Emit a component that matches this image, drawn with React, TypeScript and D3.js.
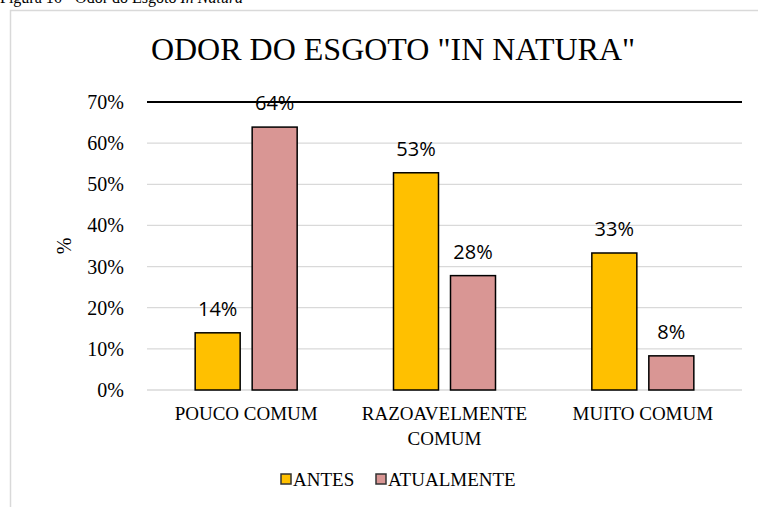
import React from "react";
import * as d3 from "d3";

const categories = ["POUCO COMUM", "RAZOAVELMENTE COMUM", "MUITO COMUM"];
const categoryLines = [["POUCO COMUM"], ["RAZOAVELMENTE", "COMUM"], ["MUITO COMUM"]];
const seriesNames = ["ANTES", "ATUALMENTE"];
const antes = [13.9, 52.8, 33.3];
const atualmente = [63.9, 27.8, 8.3];
const yTicks = [0, 10, 20, 30, 40, 50, 60, 70];
const colors = ["#FFC000", "#D99694"];

const W = 758;
const H = 507;
const M = { left: 147, right: 742, top: 102, bottom: 390 };

export default function App() {
  const x0 = d3.scaleBand().domain(categories).range([M.left, M.right]).paddingInner(0).paddingOuter(0);
  const y = d3.scaleLinear().domain([0, 70]).range([M.bottom, M.top]);
  const barW = 45;
  const gap = 12;
  const series = [antes, atualmente];
  const serif = "'Liberation Serif', 'Times New Roman', serif";
  const sans = "'Open Sans', 'Noto Sans', sans-serif";

  return (
    <svg width={W} height={H} style={{ position: "absolute", left: 0, top: 0 }} xmlns="http://www.w3.org/2000/svg">
      <rect x={0} y={0} width={W} height={H} fill="#fff" />
      <text x={0} y={3} fontFamily={serif} fontSize={16} fill="#000">
        Figura 16 - Odor do Esgoto <tspan fontStyle="italic">In Natura</tspan>
      </text>
      <rect x={10.5} y={10.5} width={W + 20} height={H + 20} fill="#fff" stroke="#d9d9d9" strokeWidth={1.5} />
      <text x={393} y={60} textAnchor="middle" fontFamily={serif} fontSize={32} fill="#000">
        ODOR DO ESGOTO "IN NATURA"
      </text>
      {yTicks.map((t) => (
        <g key={t}>
          <line
            x1={M.left}
            x2={M.right}
            y1={y(t)}
            y2={y(t)}
            stroke={t === 70 ? "#000" : "#d9d9d9"}
            strokeWidth={t === 70 ? 2 : 1.3}
          />
          <text x={124} y={y(t) + 7} textAnchor="end" fontFamily={serif} fontSize={20} fill="#000">
            {t}%
          </text>
        </g>
      ))}
      <text
        transform={`translate(71,${246}) rotate(-90)`}
        textAnchor="middle"
        fontFamily={serif}
        fontSize={20}
        fill="#000"
      >
        %
      </text>
      {categories.map((c, i) => {
        const cx = (x0(c) as number) + x0.bandwidth() / 2;
        return (
          <g key={c}>
            {series.map((s, j) => {
              const bx = j === 0 ? cx - gap / 2 - barW : cx + gap / 2;
              const by = y(s[i]);
              return (
                <g key={j}>
                  <rect
                    x={bx}
                    y={by}
                    width={barW}
                    height={y(0) - by}
                    fill={colors[j]}
                    stroke="#000"
                    strokeWidth={1.5}
                  />
                  <text
                    x={bx + barW / 2}
                    y={by - 17}
                    textAnchor="middle"
                    fontFamily={sans}
                    fontSize={20}
                    fill="#000"
                  >
                    {Math.round(s[i])}%
                  </text>
                </g>
              );
            })}
            {categoryLines[i].map((ln, k) => (
              <text
                key={k}
                x={cx}
                y={420 + k * 25}
                textAnchor="middle"
                fontFamily={serif}
                fontSize={19}
                fill="#000"
              >
                {ln}
              </text>
            ))}
          </g>
        );
      })}
      {seriesNames.map((n, j) => {
        const lx = j === 0 ? 281 : 376;
        return (
          <g key={n}>
            <rect x={lx} y={474} width={10} height={10} fill={colors[j]} stroke="#333" strokeWidth={1.5} />
            <text x={lx + 12} y={486} fontFamily={serif} fontSize={19} fill="#000">
              {n}
            </text>
          </g>
        );
      })}
    </svg>
  );
}
